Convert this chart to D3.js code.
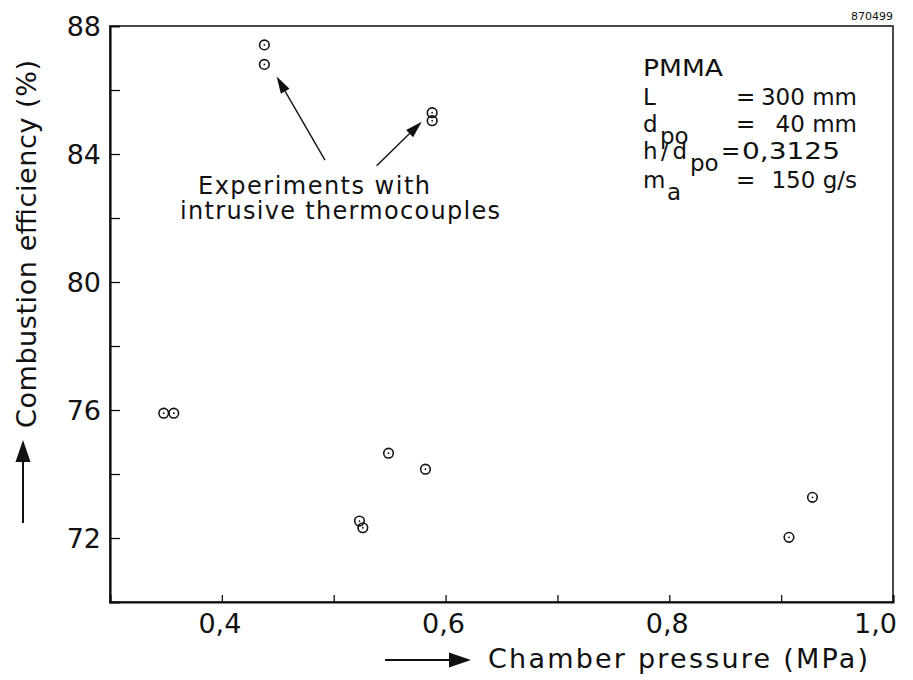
<!DOCTYPE html>
<html>
<head>
<meta charset="utf-8">
<script src="https://cdn.jsdelivr.net/npm/d3@7/dist/d3.min.js"></script>
<style>
  html, body { margin: 0; padding: 0; background: #fff; }
  svg { display: block; }
  text { font-family: "DejaVu Sans", sans-serif; fill: #111; }
</style>
</head>
<body>
<svg id="chart" width="913" height="680"></svg>
<script>
// Measured combustion efficiency of PMMA at different chamber pressures
const pressure   = [0.348, 0.357, 0.438, 0.438, 0.523, 0.526, 0.549, 0.582, 0.588, 0.588, 0.907, 0.928];
const efficiency = [75.90, 75.90, 87.41, 86.80, 72.53, 72.32, 74.65, 74.15, 85.29, 85.04, 72.02, 73.27];

// Axis ticks and labels
const xTicks = [0.4, 0.5, 0.6, 0.7, 0.8, 0.9];
const xTickLabels = { 0.4: "0,4", 0.6: "0,6", 0.8: "0,8", 1.0: "1,0" };
const yTicks = [72, 74, 76, 78, 80, 82, 84, 86];
const yTickLabels = { 72: "72", 76: "76", 80: "80", 84: "84", 88: "88" };

// Annotation arrows pointing at the thermocouple runs: [fromX, fromY, toX, toY]
const noteArrows = [
  [0.4922, 83.81, 0.449, 86.42],
  [0.5384, 83.63, 0.5787, 85.01]
];
const noteLines = ["Experiments with", "intrusive thermocouples"];

// Test conditions
const condNames  = ["PMMA", "L", "d", "h/d", "m"];
const condSubs   = ["", "", "po", "po", "a"];
const condValues = ["", "300 mm", "40 mm", "0,3125", "150 g/s"];

const svg = d3.select("#chart");
const x = d3.scaleLinear().domain([0.3, 1.0]).range([110, 893]);
const y = d3.scaleLinear().domain([70, 88]).range([602, 26]);

// frame
svg.append("rect")
  .attr("x", x(0.3)).attr("y", y(88))
  .attr("width", x(1.0) - x(0.3)).attr("height", y(70) - y(88))
  .attr("fill", "none").attr("stroke", "#111").attr("stroke-width", 1.5);

// bottom axis with inward ticks
const xAxis = d3.axisBottom(x).tickValues(xTicks).tickSize(-7).tickFormat("");
const gx = svg.append("g").attr("transform", `translate(0,${y(70)})`).call(xAxis);
gx.select(".domain").attr("stroke", "#111").attr("stroke-width", 2.2);
gx.selectAll(".tick line").attr("stroke", "#111").attr("stroke-width", 1.3);

// left axis with inward ticks
const yAxis = d3.axisLeft(y).tickValues(yTicks).tickSize(-10).tickFormat("");
const gy = svg.append("g").attr("transform", `translate(${x(0.3)},0)`).call(yAxis);
gy.select(".domain").attr("stroke", "#111").attr("stroke-width", 2.2);
gy.selectAll(".tick line").attr("stroke", "#111").attr("stroke-width", 1.3);

// tick labels
const xl = Object.keys(xTickLabels).map(Number);
svg.selectAll(".xlab").data(xl).join("text")
  .attr("class", "xlab")
  .attr("x", d => d === 1.0 ? x(d) + 4 : x(d) - 2)
  .attr("y", 633)
  .attr("text-anchor", d => d === 1.0 ? "end" : "middle")
  .attr("font-size", 27)
  .text(d => xTickLabels[d]);

const yl = Object.keys(yTickLabels).map(Number);
svg.selectAll(".ylab").data(yl).join("text")
  .attr("class", "ylab")
  .attr("x", 101)
  .attr("y", d => y(d))
  .attr("dy", "0.36em")
  .attr("text-anchor", "end")
  .attr("font-size", 27)
  .text(d => yTickLabels[d]);

// axis titles with direction arrows
svg.append("text")
  .attr("transform", "translate(36,428) rotate(-90)")
  .attr("font-size", 27)
  .attr("textLength", 368).attr("lengthAdjust", "spacing")
  .text("Combustion efficiency (%)");

svg.append("line").attr("x1", 23).attr("x2", 23).attr("y1", 523).attr("y2", 458)
  .attr("stroke", "#111").attr("stroke-width", 2);
svg.append("path").attr("d", "M23,440 L15.5,462 L30.5,462 Z").attr("fill", "#111");

svg.append("text")
  .attr("x", 488).attr("y", 668)
  .attr("font-size", 27)
  .attr("textLength", 380).attr("lengthAdjust", "spacing")
  .text("Chamber pressure (MPa)");

svg.append("line").attr("x1", 385).attr("x2", 452).attr("y1", 660).attr("y2", 660)
  .attr("stroke", "#111").attr("stroke-width", 2);
svg.append("path").attr("d", "M471,660 L449,652.5 L449,667.5 Z").attr("fill", "#111");

// drawing number
svg.append("text")
  .attr("x", 893).attr("y", 19.5)
  .attr("text-anchor", "end")
  .attr("font-size", 11)
  .text("870499");

// data markers: open circle with centre dot
const pts = pressure.map((p, i) => ({ p, e: efficiency[i] }));
const mk = svg.append("g");
mk.selectAll("circle.ring").data(pts).join("circle")
  .attr("class", "ring")
  .attr("cx", d => x(d.p)).attr("cy", d => y(d.e)).attr("r", 4.8)
  .attr("fill", "none").attr("stroke", "#111").attr("stroke-width", 1.6);
mk.selectAll("circle.dot").data(pts).join("circle")
  .attr("class", "dot")
  .attr("cx", d => x(d.p)).attr("cy", d => y(d.e)).attr("r", 0.9)
  .attr("fill", "#111");

// annotation arrows
noteArrows.forEach(([x0, y0, x1, y1]) => {
  const ax = x(x0), ay = y(y0), bx = x(x1), by = y(y1);
  const ang = Math.atan2(by - ay, bx - ax);
  const len = 17, half = 5;
  const baseX = bx - len * Math.cos(ang), baseY = by - len * Math.sin(ang);
  svg.append("line")
    .attr("x1", ax).attr("y1", ay).attr("x2", baseX).attr("y2", baseY)
    .attr("stroke", "#111").attr("stroke-width", 1.4);
  const px = -Math.sin(ang) * half, py = Math.cos(ang) * half;
  svg.append("path")
    .attr("d", `M${bx},${by} L${baseX + px},${baseY + py} L${baseX - px},${baseY - py} Z`)
    .attr("fill", "#111");
});

svg.append("text").attr("x", 198).attr("y", 194).attr("font-size", 24)
  .attr("textLength", 232).attr("lengthAdjust", "spacing").text(noteLines[0]);
svg.append("text").attr("x", 180).attr("y", 219).attr("font-size", 24)
  .attr("textLength", 320).attr("lengthAdjust", "spacing").text(noteLines[1]);

// conditions block: name, subscript, "=" and right-aligned value on each row
const cond = svg.append("g").attr("class", "cond").attr("font-size", 23);
const rowY    = [76, 105, 132, 159, 188];
const nameW   = [80, 0, 0, 44, 0];
const nameFit = ["spacingAndGlyphs", "", "", "spacing", ""];
const subX    = [0, 0, 660, 690, 667];
const eqX     = [0, 736, 736, 721, 736];
const valEnd  = [0, 857, 857, 840, 857];
condNames.forEach((n, i) => {
  const t = cond.append("text").attr("x", 643).attr("y", rowY[i]).text(n);
  if (nameW[i]) t.attr("textLength", nameW[i]).attr("lengthAdjust", nameFit[i]);
  if (condSubs[i]) {
    cond.append("text").attr("x", subX[i]).attr("y", rowY[i] + 12).text(condSubs[i]);
  }
  if (condValues[i]) {
    cond.append("text").attr("x", eqX[i]).attr("y", rowY[i]).text("=");
    const v = cond.append("text").attr("x", valEnd[i]).attr("y", rowY[i])
      .attr("text-anchor", "end").text(condValues[i]);
    if (i === 3) {
      v.attr("text-anchor", null).attr("x", 742)
        .attr("textLength", 98).attr("lengthAdjust", "spacingAndGlyphs");
    }
  }
});
</script>
</body>
</html>
